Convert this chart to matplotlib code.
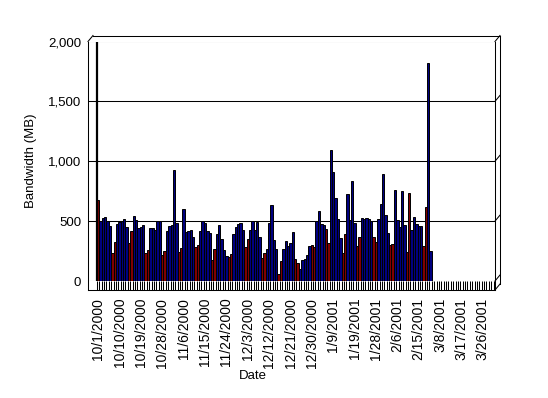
import numpy as np
import matplotlib
matplotlib.use("Agg")
import matplotlib.pyplot as plt
from matplotlib.lines import Line2D

plt.rcParams['font.family'] = ['Liberation Sans', 'DejaVu Sans']

# ---------- Data ----------
n_days = 167  # number of date slots on the category axis

bandwidth = [
    678, 497, 525, 538, 505, 460, 237, 329, 477, 494,
    497, 519, 455, 321, 421, 544, 510, 441, 455, 466,
    237, 259, 441, 441, 427, 505, 505, 218, 254, 418,
    460, 469, 929, 483, 240, 273, 600, 410, 421, 427,
    365, 287, 298, 418, 502, 488, 420, 399, 176, 265,
    393, 469, 349, 260, 209, 204, 223, 393, 449, 474,
    483, 427, 287, 349, 427, 502, 427, 491, 365, 195,
    232, 265, 483, 633, 343, 265, 60, 170, 265, 338,
    293, 315, 407, 181, 148, 98, 176, 181, 215, 293,
    300, 280, 502, 586, 477, 469, 432, 315, 1096, 910,
    692, 516, 363, 237, 391, 725, 511, 831, 488, 293,
    371, 525, 519, 525, 519, 497, 365, 329, 516, 644,
    896, 552, 405, 301, 307, 756, 510, 455, 748, 469,
    246, 734, 427, 538, 472, 460, 460, 293, 622, 1821,
    251,
]

# Saturdays / Sundays are drawn in dark red
weekend_idx = [0, 6, 7, 13, 14, 20, 21, 27, 28, 34, 35, 41, 42, 48, 49,
               55, 56, 62, 63, 69, 70, 76, 77, 83, 84, 90, 91, 96, 97,
               103, 104, 109, 110, 116, 117, 123, 124, 130, 131, 137, 138]

tick_pos = [0, 9, 18, 27, 36, 45, 54, 63, 72, 81, 90, 99, 108, 117, 126,
            135, 144, 153, 162]
tick_labels = ["10/1/2000", "10/10/2000", "10/19/2000", "10/28/2000",
               "11/6/2000", "11/15/2000", "11/24/2000", "12/3/2000",
               "12/12/2000", "12/21/2000", "12/30/2000", "1/9/2001",
               "1/19/2001", "1/28/2001", "2/6/2001", "2/15/2001",
               "3/8/2001", "3/17/2001", "3/26/2001"]

y_ticks = [0, 500, 1000, 1500, 2000]

# ---------- Figure ----------
W, H = 548, 398
fig = plt.figure(figsize=(W / 100, H / 100), dpi=100)
fig.patch.set_facecolor("white")

# front panel in pixels (left, top, right, bottom)
L, T, R, B = 88, 41.5, 495, 281
ax = fig.add_axes([L / W, (H - B) / H, (R - L) / W, (B - T) / H])
ax.set_facecolor("none")

pitch = (493.5 - 97) / n_days
ax.set_xlim(-0.5 - (97 - L) / pitch, n_days - 0.5 + (R - 493.5) / pitch)
ax.set_ylim(0, 2000)

for s in ax.spines.values():
    s.set_visible(False)

x = np.arange(len(bandwidth))
colors = ["#800000" if i in weekend_idx else "#000080" for i in x]
ax.bar(x, bandwidth, width=1.0, color=colors, edgecolor="black",
       linewidth=0.7, zorder=3)

# thick left edge of the wall
ax.axvline(-0.5, color="black", linewidth=1.6, zorder=4)

lw = 0.75
for v in y_ticks:
    ax.axhline(v, color="black", linewidth=lw, zorder=2)

ax.set_yticks(y_ticks)
ax.set_yticklabels([f"{v:,}" for v in y_ticks], fontsize=9.5)
ax.tick_params(axis="y", length=0, pad=5)

ax.set_xticks(tick_pos)
ax.set_xticklabels(tick_labels, rotation=90, fontsize=10, va="top")
ax.tick_params(axis="x", which="major", length=0, pad=12)
ax.set_xticks(np.arange(-0.5, n_days, 1.0), minor=True)
ax.tick_params(axis="x", which="minor", length=6.5, width=0.75,
               direction="out", color="black")

ax.set_ylabel("Bandwidth (MB)", fontsize=9.5, labelpad=8)
ax.set_xlabel("Date", fontsize=9.5)
ax.xaxis.set_label_coords(0.405, -0.372)

# ---------- 3D box outline ----------
dx, dy = 5, 6          # depth offset in pixels
floor = 9              # floor depth below the zero line


def seg(x0, y0, x1, y1):
    fig.add_artist(Line2D([x0 / W, x1 / W], [(H - y0) / H, (H - y1) / H],
                          color="black", linewidth=lw,
                          transform=fig.transFigure))


seg(L, T, L, B + floor)                 # left edge
seg(L, B + floor, R, B + floor)         # floor front edge
seg(L, T, L + dx, T - dy)               # top-left corner
seg(L + dx, T - dy, R + dx, T - dy)     # back top edge
seg(R, T, R, B + floor)                 # right front edge
seg(R + dx, T - dy, R + dx, B + floor - dy)
seg(R, B + floor, R + dx, B + floor - dy)
for v in y_ticks:
    yp = B - (B - T) * v / 2000
    seg(R, yp, R + dx, yp - dy)

fig.savefig("out.png", dpi=100)
